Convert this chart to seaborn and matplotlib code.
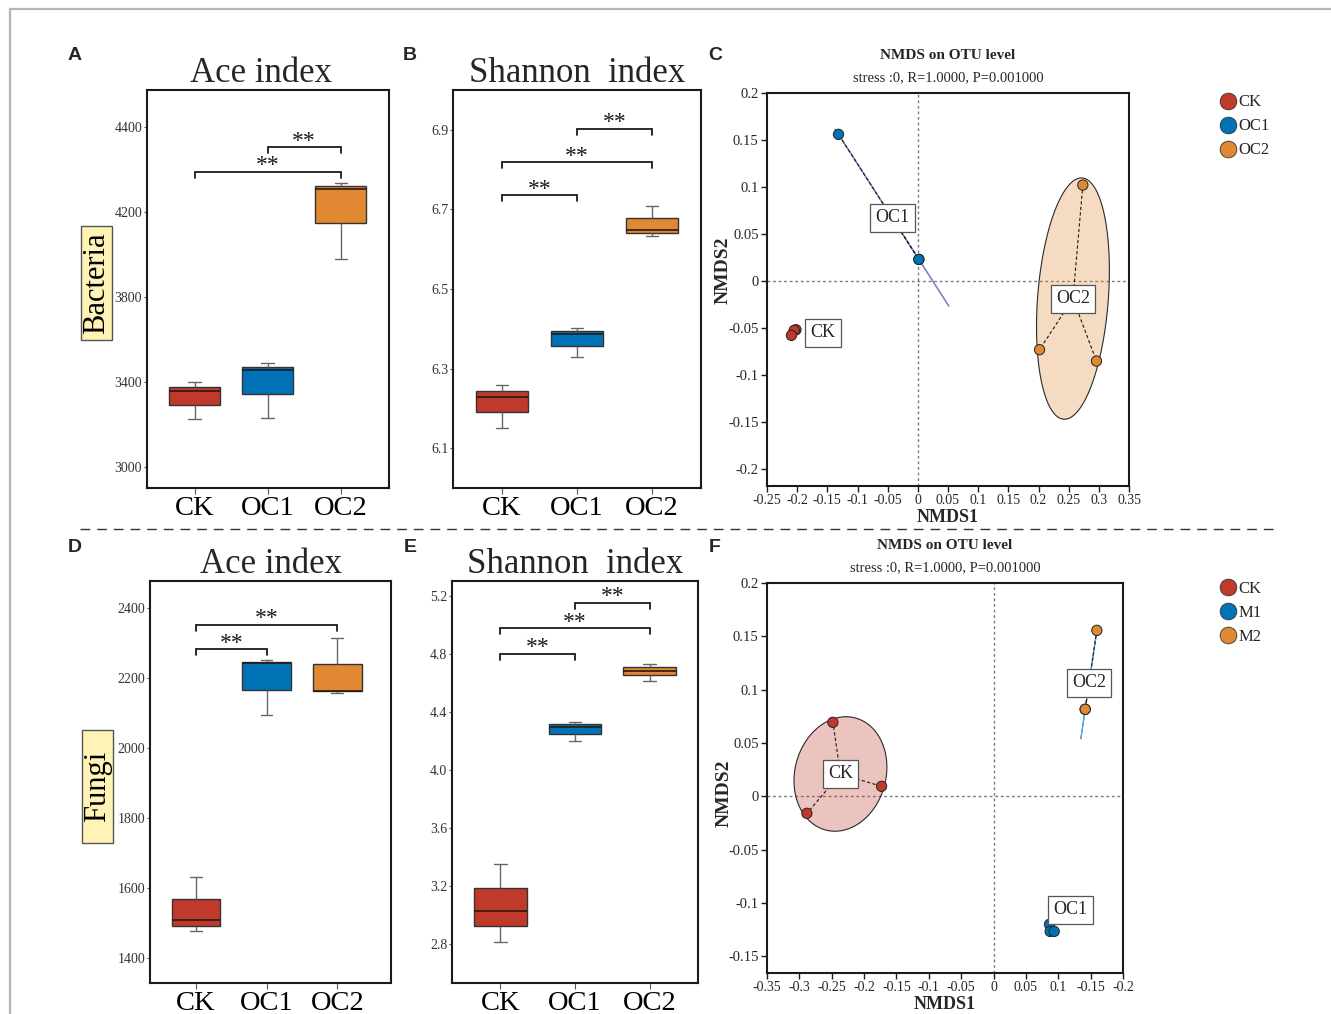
import numpy as np
import pandas as pd
import matplotlib
matplotlib.use("Agg")
import matplotlib.pyplot as plt
from matplotlib.lines import Line2D
from matplotlib.patches import Rectangle, Polygon
from matplotlib.colors import to_rgba
import seaborn as sns

# ---------------- data ----------------
groups = ["CK", "OC1", "OC2"]
group_colors = ["#bf3a2b", "#0072b6", "#e08832"]

# box summaries per group: min, Q1, median, Q3, max
bac_ace_ck = [3224, 3290, 3358, 3378, 3401]
bac_ace_oc1 = [3232, 3344, 3456, 3469, 3488]
bac_ace_oc2 = [3979, 4147, 4310, 4324, 4338]

bac_sha_ck = [6.151, 6.190, 6.229, 6.244, 6.259]
bac_sha_oc1 = [6.329, 6.357, 6.386, 6.394, 6.403]
bac_sha_oc2 = [6.632, 6.640, 6.647, 6.678, 6.709]

fun_ace_ck = [1479, 1494, 1511, 1571, 1633]
fun_ace_oc1 = [2095, 2167, 2242, 2246, 2253]
fun_ace_oc2 = [2157, 2162, 2163.5, 2239, 2313]

fun_sha_ck = [2.814, 2.920, 3.023, 3.186, 3.352]
fun_sha_oc1 = [4.196, 4.248, 4.297, 4.313, 4.327]
fun_sha_oc2 = [4.614, 4.651, 4.683, 4.708, 4.731]

# y tick values and their printed labels
a_yticks = [3000, 3400, 3800, 4200, 4600]
a_ylabels = ["3000", "3400", "3800", "4200", "4400"]
b_yticks = [6.1, 6.3, 6.5, 6.7, 6.9]
b_ylabels = ["6.1", "6.3", "6.5", "6.7", "6.9"]
d_yticks = [1400, 1600, 1800, 2000, 2200, 2400]
d_ylabels = ["1400", "1600", "1800", "2000", "2200", "2400"]
e_yticks = [2.8, 3.2, 3.6, 4.0, 4.4, 4.8, 5.2]
e_ylabels = ["2.8", "3.2", "3.6", "4.0", "4.4", "4.8", "5.2"]

# significance brackets: (group i, group j, bracket height, label)
a_sig = [(1, 2, 4504, "**"), (0, 2, 4387, "**")]
b_sig = [(1, 2, 6.902, "**"), (0, 2, 6.818, "**"), (0, 1, 6.735, "**")]
d_sig = [(0, 2, 2351, "**"), (0, 1, 2282, "**")]
e_sig = [(1, 2, 5.148, "**"), (0, 2, 4.973, "**"), (0, 1, 4.798, "**")]

# NMDS sample scores
c_group = ["CK", "CK", "CK", "OC1", "OC1", "OC1", "OC2", "OC2", "OC2"]
c_x = [-0.202, -0.205, -0.2095, -0.1315, 0.0017, 0.0017, 0.2735, 0.2017, 0.2961]
c_y = [-0.0518, -0.0525, -0.0578, 0.156, 0.023, 0.023, 0.1021, -0.0730, -0.0851]

f_group = ["CK", "CK", "CK", "M1", "M1", "M1", "M2", "M2", "M2"]
f_x = [-0.2482, -0.1730, -0.2884, 0.0865, 0.0875, 0.0937, 0.1596, 0.1416, 0.1416]
f_y = [0.0694, 0.0094, -0.0159, -0.120, -0.1266, -0.1266, 0.1556, 0.0816, 0.0816]

c_xticks = [-0.25, -0.2, -0.15, -0.1, -0.05, 0, 0.05, 0.1, 0.15, 0.2, 0.25, 0.3, 0.35]
c_xlabels = ["-0.25", "-0.2", "-0.15", "-0.1", "-0.05", "0", "0.05", "0.1",
             "0.15", "0.2", "0.25", "0.3", "0.35"]
c_yticks = [-0.2, -0.15, -0.1, -0.05, 0, 0.05, 0.1, 0.15, 0.2]
c_ylabels = ["-0.2", "-0.15", "-0.1", "-0.05", "0", "0.05", "0.1", "0.15", "0.2"]
f_xticks = [-0.35, -0.3, -0.25, -0.2, -0.15, -0.1, -0.05, 0, 0.05, 0.1, 0.15, 0.2]
f_xlabels = ["-0.35", "-0.3", "-0.25", "-0.2", "-0.15", "-0.1", "-0.05", "0",
             "0.05", "0.1", "-0.15", "-0.2"]
f_yticks = [-0.15, -0.1, -0.05, 0, 0.05, 0.1, 0.15, 0.2]
f_ylabels = ["-0.15", "-0.1", "-0.05", "0", "0.05", "0.1", "0.15", "0.2"]

nmds_title = "NMDS on OTU level"
nmds_sub = "stress :0, R=1.0000, P=0.001000"

# ---------------- style ----------------
sns.set_theme(style="ticks")
plt.rcParams["font.family"] = ["Liberation Serif", "DejaVu Serif"]
plt.rcParams["axes.edgecolor"] = "#1a1a1a"

W, H = 1331, 1014
fig = plt.figure(figsize=(W / 100, H / 100), dpi=100)
fig.patch.set_facecolor("white")


def px_axes(x0, y0, x1, y1):
    return fig.add_axes([x0 / W, 1 - y1 / H, (x1 - x0) / W, (y1 - y0) / H])


def fx(x):
    return x / W


def fy(y):
    return 1 - y / H


# outer border of the figure (top and left)
fig.add_artist(Line2D([fx(10), fx(10), fx(1331)], [fy(1014), fy(9), fy(9)],
                      color="#b4b4b4", lw=1.6))
# separator between bacteria and fungi rows
fig.add_artist(Line2D([fx(80), fx(1276)], [fy(529), fy(529)], color="#333333",
                      lw=1.0, ls=(0, (7, 5))))


def box_panel(ax, summaries, title, yticks, ylabels, ylim, xlim, sig,
              width=0.7, title_x=0.5):
    vals, grp = [], []
    for g, s in zip(groups, summaries):
        vals += list(s)
        grp += [g] * len(s)
    df = pd.DataFrame({"group": grp, "value": vals})
    sns.boxplot(data=df, x="group", y="value", hue="group", order=groups,
                hue_order=groups, palette=group_colors, legend=False,
                saturation=1, width=width, whis=np.inf, linecolor="#333333",
                linewidth=1.0, ax=ax,
                whiskerprops={"color": "#666666", "linewidth": 1.0},
                capprops={"color": "#666666", "linewidth": 1.0},
                medianprops={"color": "#2a1a12", "linewidth": 1.2})
    # narrow whisker caps
    for ln in ax.lines:
        xd = np.asarray(ln.get_xdata(), dtype=float)
        yd = np.asarray(ln.get_ydata(), dtype=float)
        if len(xd) == 2 and yd[0] == yd[1] and 0 < abs(xd[1] - xd[0]) < 0.6 * width:
            cx = xd.mean()
            half = 0.12 * width
            ln.set_xdata([cx - half, cx + half])
    ax.set_xlim(*xlim)
    ax.set_ylim(*ylim)
    ax.set_yticks(yticks)
    ax.set_yticklabels(ylabels, fontsize=10, color="#333333")
    ax.set_xticks(range(len(groups)))
    ax.set_xticklabels(groups, fontsize=20.5, color="black")
    ax.set_xlabel("")
    ax.set_ylabel("")
    ax.tick_params(axis="y", length=2.5, width=0.8, pad=1, color="#555555")
    ax.tick_params(axis="x", length=4, width=0.8, pad=2, color="#555555")
    for sp in ax.spines.values():
        sp.set_visible(True)
        sp.set_linewidth(1.5)
        sp.set_color("#1a1a1a")
    ax.set_title(title, fontsize=25, pad=5, x=title_x)
    # brackets
    fig.canvas.draw()
    h_px = ax.get_window_extent().height
    drop = 6 / h_px * (ylim[1] - ylim[0])
    for i, j, yv, lab in sig:
        ax.plot([i, i, j, j], [yv - drop, yv, yv, yv - drop], color="#1a1a1a",
                lw=1.3, solid_joinstyle="miter", clip_on=False)
        ax.annotate(lab, xy=((i + j) / 2, yv), xytext=(0, -3),
                    textcoords="offset points", ha="center", va="bottom",
                    fontsize=17, color="#1a1a1a")


axA = px_axes(147, 90, 389, 488)
box_panel(axA, [bac_ace_ck, bac_ace_oc1, bac_ace_oc2], "Ace index",
          a_yticks, a_ylabels, (2901, 4774), (-0.65, 2.66), a_sig, title_x=0.472)
axB = px_axes(453, 90, 701, 488)
box_panel(axB, [bac_sha_ck, bac_sha_oc1, bac_sha_oc2], "Shannon  index",
          b_yticks, b_ylabels, (6.0, 7.0), (-0.65, 2.65), b_sig)
axD = px_axes(150, 581, 391, 983)
box_panel(axD, [fun_ace_ck, fun_ace_oc1, fun_ace_oc2], "Ace index",
          d_yticks, d_ylabels, (1330, 2477), (-0.65, 2.76), d_sig, width=0.69)
axE = px_axes(452, 581, 698, 983)
box_panel(axE, [fun_sha_ck, fun_sha_oc1, fun_sha_oc2], "Shannon  index",
          e_yticks, e_ylabels, (2.53, 5.30), (-0.65, 2.65), e_sig)

# row labels on yellow tags
for (x0, y0, x1, y1), lab in [((81, 226, 112, 340), "Bacteria"),
                              ((82, 730, 113, 843), "Fungi")]:
    fig.add_artist(Rectangle((fx(x0), fy(y1)), fx(x1) - fx(x0), fy(y0) - fy(y1),
                             transform=fig.transFigure, facecolor="#fff4b6",
                             edgecolor="#555555", lw=1.0))
    fig.text(fx((x0 + x1) / 2), fy((y0 + y1) / 2), lab, rotation=90,
             ha="center", va="center", fontsize=22, color="black")

ELLIPSE_SCALE = 1.225


def nmds_panel(ax, gx, gy, gnames, label_names, xticks, xlabels, yticks, ylabels,
               xlim, ylim, line_colors, label_shift, legend_top, ylabel_y):
    df = pd.DataFrame({"x": gx, "y": gy, "group": gnames})
    order = list(dict.fromkeys(gnames))
    pal = dict(zip(order, group_colors))
    ax.axhline(0, color="#7a7a7a", ls=(0, (2, 2)), lw=1.0, zorder=1)
    ax.axvline(0, color="#7a7a7a", ls=(0, (2, 2)), lw=1.0, zorder=1)
    t = np.linspace(0, 2 * np.pi, 240)
    circ = np.vstack([np.cos(t), np.sin(t)])
    for g, name in zip(order, label_names):
        pts = df.loc[df.group == g, ["x", "y"]].to_numpy()
        c = pts.mean(axis=0)
        w, v = np.linalg.eigh(np.cov(pts.T))
        w = np.clip(w, 0, None)
        ell = c[:, None] + ELLIPSE_SCALE * (v @ (np.sqrt(w)[:, None] * circ))
        if w.min() < 1e-6 * w.max():
            ax.plot(ell[0], ell[1], color=line_colors.get(g, "#333333"), lw=0.9,
                    zorder=2)
        else:
            ax.add_patch(Polygon(ell.T, closed=True,
                                 facecolor=to_rgba(pal[g], 0.3),
                                 edgecolor="#2a2a2a", lw=0.8, zorder=2))
        for p in pts:
            ax.plot([c[0], p[0]], [c[1], p[1]], color="#1a1a1a", lw=0.8,
                    ls=(0, (3, 2)), zorder=3)
        dx, dy = label_shift.get(g, (0, 0))
        ax.text(c[0] + dx, c[1] + dy, name, ha="center", va="center",
                fontsize=13, zorder=6,
                bbox=dict(boxstyle="square,pad=0.3", fc="white", ec="#555555",
                          lw=0.9))
    sns.scatterplot(data=df, x="x", y="y", hue="group", hue_order=order,
                    palette=pal, s=55, edgecolor="#222222", linewidth=0.7,
                    legend=False, ax=ax, zorder=5)
    ax.set_xlim(*xlim)
    ax.set_ylim(*ylim)
    ax.set_xticks(xticks)
    ax.set_xticklabels(xlabels, fontsize=10)
    ax.set_yticks(yticks)
    ax.set_yticklabels(ylabels, fontsize=10.5)
    ax.tick_params(length=4, width=1, color="#1a1a1a", pad=2)
    for sp in ax.spines.values():
        sp.set_visible(True)
        sp.set_linewidth(1.5)
        sp.set_color("#1a1a1a")
    ax.set_xlabel("NMDS1", fontsize=13, fontweight="bold", labelpad=1)
    ax.set_ylabel("NMDS2", fontsize=14, fontweight="bold")
    ax.yaxis.set_label_coords(-0.097, ylabel_y)
    ax.annotate(nmds_sub, xy=(0.5, 1.0), xycoords="axes fraction",
                xytext=(0, 6.5), textcoords="offset points", ha="center",
                va="bottom", fontsize=10.5)
    ax.annotate(nmds_title, xy=(0.5, 1.0), xycoords="axes fraction",
                xytext=(0, 22), textcoords="offset points", ha="center",
                va="bottom", fontsize=11, fontweight="bold")
    handles = [Line2D([], [], marker="o", ls="", markersize=12,
                      markerfacecolor=pal[g], markeredgecolor="#333333",
                      markeredgewidth=0.6) for g in order]
    ax.legend(handles, order, loc="upper left",
              bbox_to_anchor=(fx(1210), fy(legend_top)),
              bbox_transform=fig.transFigure, frameon=False,
              handletextpad=0.0, labelspacing=0.48, borderpad=0,
              handlelength=1.2, prop={"size": 12})


axC = px_axes(767, 93, 1129, 486)
nmds_panel(axC, c_x, c_y, c_group, groups, c_xticks, c_xlabels, c_yticks,
           c_ylabels, (-0.25, 0.35), (-0.218, 0.2),
           {"OC1": "#8686cc"}, {"CK": (0.048, -0.001)}, 86, 0.55)
axF = px_axes(767, 583, 1123, 973)
nmds_panel(axF, f_x, f_y, f_group, groups, f_xticks, f_xlabels, f_yticks,
           f_ylabels, (-0.35, 0.2), (-0.1656, 0.2),
           {"M2": "#69a6d6"}, {"M1": (0.029, 0.018)}, 573, 0.46)

# panel letters
for lab, x, y in [("A", 75, 55), ("B", 410, 55), ("C", 715, 55),
                  ("D", 75, 548), ("E", 410, 548), ("F", 715, 548)]:
    fig.text(fx(x), fy(y), lab, ha="center", va="center", fontsize=14,
             fontweight="bold", family=["Liberation Sans", "DejaVu Sans"])

fig.savefig("out.png", dpi=100, facecolor="white")
